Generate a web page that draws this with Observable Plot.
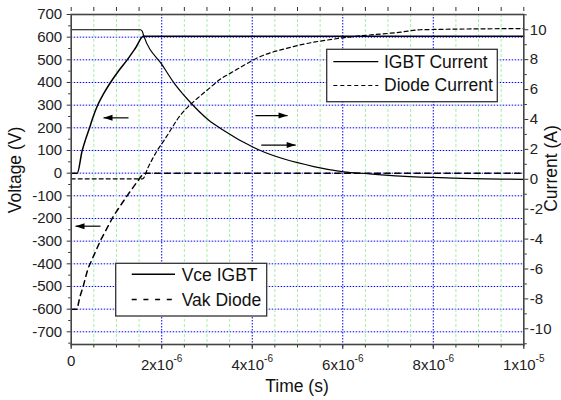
<!DOCTYPE html>
<html><head><meta charset="utf-8">
<script src="https://cdn.jsdelivr.net/npm/d3@7"></script>
<script src="https://cdn.jsdelivr.net/npm/@observablehq/plot@0.6"></script>
<style>
body{margin:0;background:#fff;}
#chart svg{display:block;}
</style></head><body><div id="chart"></div>
<script>
// ---- data (time in microseconds) ----
const vceT  = [0, 0.133, 0.243, 0.316, 0.389, 0.47, 0.574, 0.72, 0.868, 1.05, 1.237, 1.42, 1.60, 1.66, 10];
const vceV  = [0, 0, 100, 148, 190, 240, 295, 352, 400, 452, 500, 552, 605, 604, 604];
const vakT  = [0, 0.133, 0.19, 0.27, 0.37, 0.647, 0.94, 1.237, 1.53, 1.6, 10];
const vakV  = [-600, -600, -547, -496, -421, -297, -187, -99, -18, 0, 0];
const igbtT = [0, 1.53, 1.57, 1.60, 2.01, 2.27, 2.6, 3.04, 3.3, 4.18, 5.36, 6.02, 6.55, 7.28, 8.5, 10];
const igbtI = [10.0, 10.0, 9.9, 9.62, 7.65, 6.45, 5.25, 3.95, 3.4, 1.92, 0.85, 0.5, 0.37, 0.21, 0.08, 0.0];
const diodeT = [0, 1.58, 1.7, 1.9, 2.05, 2.19, 2.34, 2.86, 3.0, 3.3, 3.52, 3.92, 4.03, 4.85, 6.0, 7.28, 7.72, 10];
const diodeI = [0.03, 0.03, 0.8, 1.92, 2.59, 3.26, 3.98, 5.6, 5.95, 6.7, 7.1, 7.8, 7.99, 8.83, 9.46, 9.84, 10.0, 10.08];

// annotation arrows: from x1 to x2 (µs) at level y (V)
const arrowX1 = [1.266, 0.647, 4.07, 4.2];
const arrowX2 = [0.714, 0.095, 4.78, 4.96];
const arrowY  = [244, -234, 254, 124];

// ticks
const xTicks = [0, 2, 4, 6, 8, 10];
const xTickLabels = ["0", "2x10^-6", "4x10^-6", "6x10^-6", "8x10^-6", "1x10^-5"];
const xMinor = [0,0.5,1,1.5,2,2.5,3,3.5,4,4.5,5,5.5,6,6.5,7,7.5,8,8.5,9,9.5,10];
const xMinorGrid = [0.5,1,1.5,2.5,3,3.5,4.5,5,5.5,6.5,7,7.5,8.5,9,9.5];
const xMajorGrid = [2, 4, 6, 8];
const vTicks = [-700,-600,-500,-400,-300,-200,-100,0,100,200,300,400,500,600,700];
const vMinor = [-750,-650,-550,-450,-350,-250,-150,-50,50,150,250,350,450,550,650];
const iTicks = [-10,-8,-6,-4,-2,0,2,4,6,8,10];
const iMinor = [-11,-9,-7,-5,-3,-1,1,3,5,7,9,11];

const vDomain = [-756, 700];
const iDomain = [-11.05, 11.02];
const i2v = d3.scaleLinear().domain(iDomain).range(vDomain);

const vce = vceT.map((t, k) => ({t, v: vceV[k]}));
const vak = vakT.map((t, k) => ({t, v: vakV[k]}));
const igbt = igbtT.map((t, k) => ({t, i: igbtI[k]}));
const diode = diodeT.map((t, k) => ({t, i: diodeI[k]}));
const arrows = arrowX1.map((x1, k) => ({x1, x2: arrowX2[k], y: arrowY[k], dir: arrowX2[k] > x1 ? 1 : -1}));

const headR = {draw(ctx){ctx.moveTo(0,0);ctx.lineTo(-9,-3);ctx.lineTo(-9,3);ctx.closePath();}};
const headL = {draw(ctx){ctx.moveTo(0,0);ctx.lineTo(9,-3);ctx.lineTo(9,3);ctx.closePath();}};

const FONT = "'Liberation Sans', Arial, sans-serif";
const AX = "#333";

const svg = Plot.plot({
  width: 561, height: 400,
  marginLeft: 70.7, marginRight: 37.7, marginTop: 14, marginBottom: 56,
  x: {domain: [0, 10], axis: null},
  y: {domain: vDomain, axis: null},
  style: {fontFamily: FONT, fontSize: "15px", color: AX, background: "white"},
  marks: [
    Plot.ruleY(vTicks, {stroke: "#0000ff", strokeDasharray: "1.5,1.5", strokeWidth: 1}),
    Plot.ruleX(xMinorGrid, {stroke: "#a8eea8", strokeDasharray: "3,2", strokeWidth: 1}),
    Plot.ruleX(xMajorGrid, {stroke: "#0000ff", strokeDasharray: "1.5,1.5", strokeWidth: 1}),
    Plot.line(diode, {x: "t", y: d => i2v(d.i), curve: "monotone-x", stroke: "#000", strokeWidth: 1.2, strokeDasharray: "4,3"}),
    Plot.line(igbt, {x: "t", y: d => i2v(d.i), curve: "monotone-x", stroke: "#000", strokeWidth: 1.2}),
    Plot.line(vak, {x: "t", y: "v", stroke: "#000", strokeWidth: 1.5, strokeDasharray: "5.5,4.5"}),
    Plot.line(vce, {x: "t", y: "v", curve: "monotone-x", stroke: "#000", strokeWidth: 1.5}),
    Plot.link(arrows, {x1: "x1", x2: "x2", y1: "y", y2: "y", stroke: "#000", strokeWidth: 1.2}),
    Plot.dot(arrows.filter(a => a.dir > 0), {x: "x2", y: "y", symbol: headR, fill: "#000", stroke: null}),
    Plot.dot(arrows.filter(a => a.dir < 0), {x: "x2", y: "y", symbol: headL, fill: "#000", stroke: null}),
    Plot.axisY(vTicks, {anchor: "left", tickSize: 4, tickPadding: 5, tickFormat: d => String(d), label: null, fontSize: 15, fill: "#222"}),
    Plot.axisY(vMinor, {anchor: "left", tickSize: 2.5, tickFormat: () => "", label: null}),
    Plot.axisY(iTicks.map(i2v), {anchor: "right", tickSize: 4, tickPadding: 2, tickFormat: v => String(Math.round(i2v.invert(v))), label: null, fontSize: 15, fill: "#222"}),
    Plot.axisY(iMinor.map(i2v), {anchor: "right", tickSize: 2.5, tickFormat: () => "", label: null}),
    Plot.axisX(xTicks, {anchor: "bottom", tickSize: 5, tickPadding: 9.5, tickFormat: d => xTickLabels[xTicks.indexOf(d)], label: null, fontSize: 15, fill: "#222"}),
    Plot.axisX(xMinor, {anchor: "bottom", tickSize: 3.5, tickFormat: () => "", label: null}),
    Plot.axisX(xMinor, {anchor: "top", tickSize: 4, dy: -4, tickFormat: () => "", label: null}),
    Plot.frame({stroke: "#444", strokeWidth: 1.6})
  ]
});

// superscripts in x tick labels
const NS = "http://www.w3.org/2000/svg";
svg.querySelectorAll('g[aria-label="x-axis tick label"] text').forEach(t => {
  const s = t.textContent;
  if (s.includes("^")) {
    const [base, exp] = s.split("^");
    t.textContent = "";
    const a = document.createElementNS(NS, "tspan"); a.textContent = base; t.appendChild(a);
    const b = document.createElementNS(NS, "tspan"); b.textContent = exp;
    b.setAttribute("dy", "-0.75em"); b.setAttribute("font-size", "10px"); t.appendChild(b);
  } else if (s === "0") {
    t.setAttribute("dy", "-4");
  }
});

const g = d3.select(svg).append("g").attr("font-family", FONT).attr("font-size", 17.5).attr("fill", "#111").attr("text-anchor", "start");
// axis titles
g.append("text").attr("text-anchor", "middle").attr("transform", "translate(20.8,170) rotate(-90)").text("Voltage (V)");
g.append("text").attr("text-anchor", "middle").attr("transform", "translate(556.5,168.5) rotate(-90)").text("Current (A)");
g.append("text").attr("text-anchor", "middle").attr("x", 297).attr("y", 391.5).text("Time (s)");

// legend 1 (currents)
const l1 = g.append("g");
l1.append("rect").attr("x", 326.7).attr("y", 49.3).attr("width", 170.6).attr("height", 52.4).attr("fill", "#fff").attr("stroke", "#333").attr("stroke-width", 1.3);
l1.append("line").attr("x1", 333.3).attr("x2", 378.3).attr("y1", 61.7).attr("y2", 61.7).attr("stroke", "#000").attr("stroke-width", 1.2);
l1.append("text").attr("x", 384).attr("y", 67.9).text("IGBT Current");
l1.append("line").attr("x1", 333.3).attr("x2", 378.3).attr("y1", 85.5).attr("y2", 85.5).attr("stroke", "#000").attr("stroke-width", 1.2).attr("stroke-dasharray", "4,3");
l1.append("text").attr("x", 384).attr("y", 91).text("Diode Current");

// legend 2 (voltages)
const l2 = g.append("g");
l2.append("rect").attr("x", 115.7).attr("y", 263.3).attr("width", 151).attr("height", 52.7).attr("fill", "#fff").attr("stroke", "#333").attr("stroke-width", 1.3);
l2.append("line").attr("x1", 131.7).attr("x2", 175).attr("y1", 274.3).attr("y2", 274.3).attr("stroke", "#000").attr("stroke-width", 1.5);
l2.append("text").attr("x", 181.7).attr("y", 280.5).text("Vce IGBT");
l2.append("line").attr("x1", 131.7).attr("x2", 177).attr("y1", 299.5).attr("y2", 299.5).attr("stroke", "#000").attr("stroke-width", 1.5).attr("stroke-dasharray", "5,6.7");
l2.append("text").attr("x", 181.7).attr("y", 305.5).text("Vak Diode");

document.getElementById("chart").appendChild(svg);
</script></body></html>
